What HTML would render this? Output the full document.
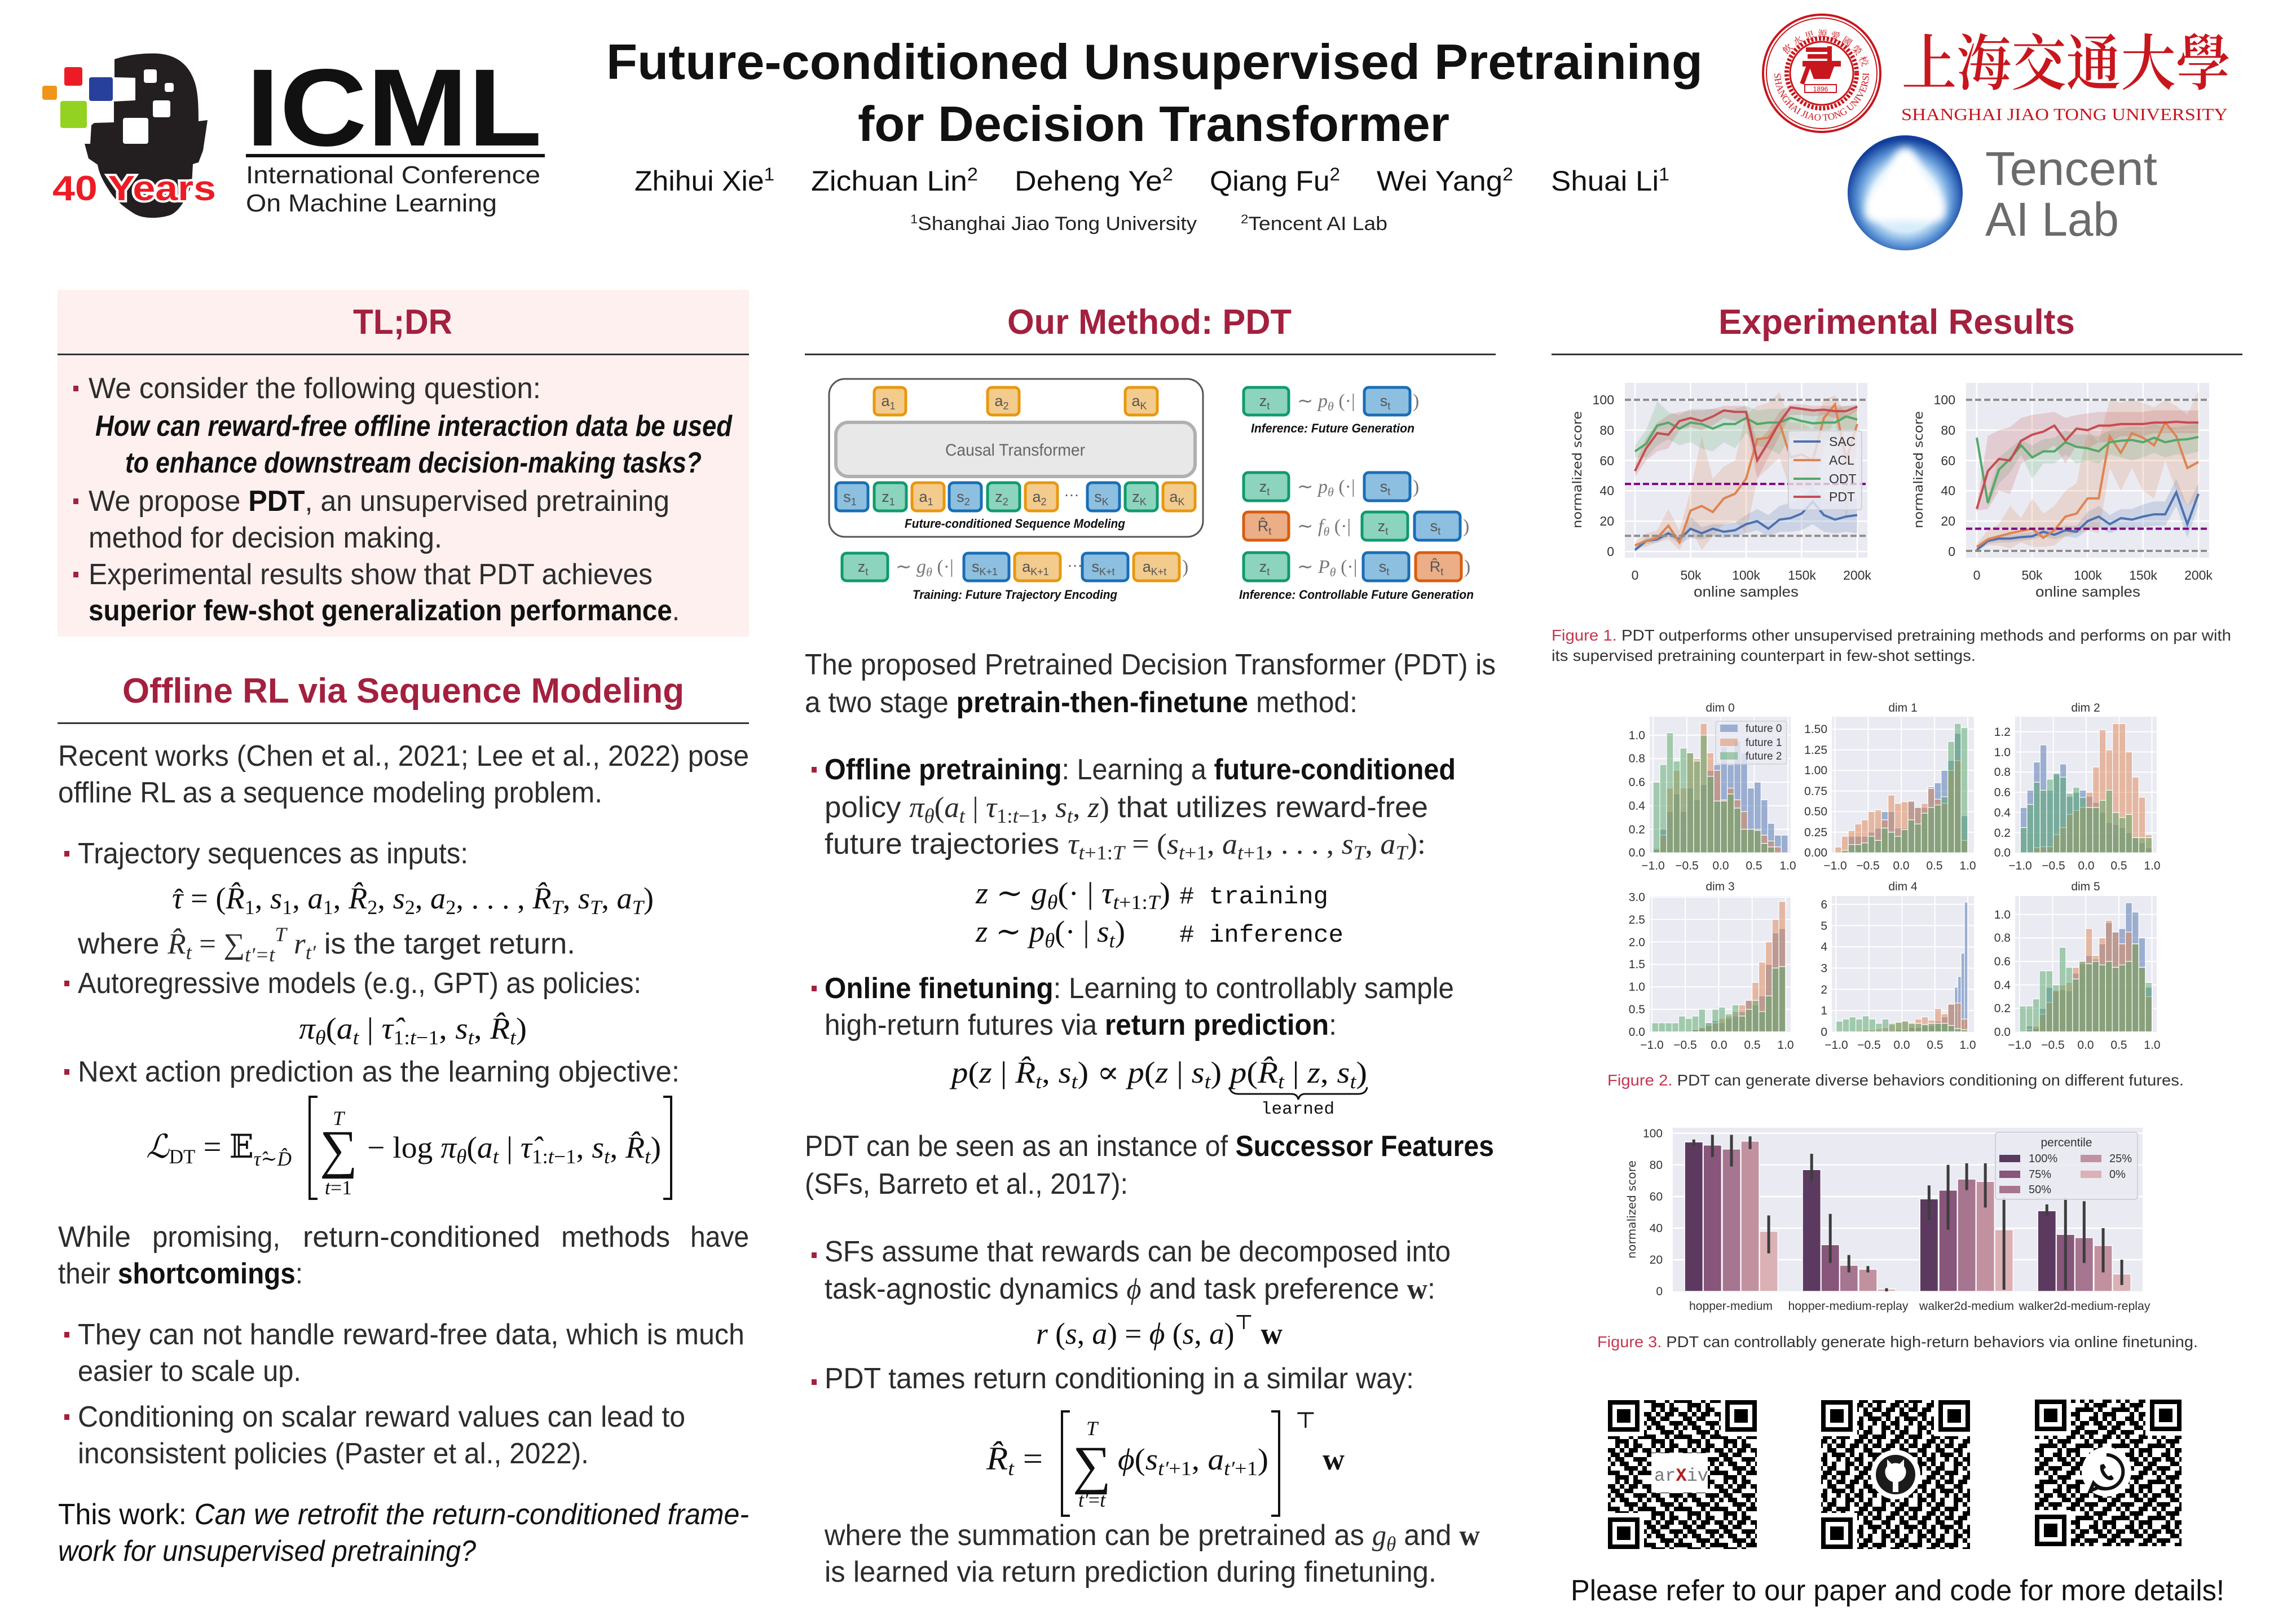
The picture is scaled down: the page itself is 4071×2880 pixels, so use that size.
<!DOCTYPE html>
<html><head><meta charset="utf-8"><style>
html,body{margin:0;padding:0;background:#fff;}
svg{display:block;}
text{font-family:"Liberation Sans","DejaVu Sans",sans-serif;}
.t{font-size:52px;fill:#2c2c2c;}
.b{font-weight:bold;fill:#111;}
.i{font-style:italic;}
.m{font-family:"Liberation Serif","DejaVu Serif",serif;font-style:italic;}
.u{font-family:"Liberation Serif","DejaVu Serif",serif;font-style:normal;}
.sb{font-size:36px;}
.mono{font-family:"Liberation Mono",monospace;}
.h{font-size:62px;font-weight:bold;fill:#a3203e;text-anchor:middle;}
.tl{font-size:27px;fill:#555;text-anchor:middle;}
.ts{font-size:18px;}
.sym{font-family:"Liberation Serif",serif;font-size:34px;fill:#777;}
.cap{font-size:22px;font-weight:bold;font-style:italic;fill:#111;}
.tk{font-size:23px;fill:#333;}
.tk2{font-size:21px;fill:#333;}
.fc{font-size:28px;fill:#333;}
</style></head><body>
<svg width="4071" height="2880" viewBox="0 0 4071 2880" xmlns="http://www.w3.org/2000/svg">
<defs>
<pattern id="qp" width="64" height="64" patternUnits="userSpaceOnUse"><path d="M0,0h8v8h-8zM16,0h16v8h-16zM48,0h8v8h-8zM8,8h16v8h-16zM32,8h16v8h-16zM56,8h8v8h-8zM0,16h16v8h-16zM40,16h16v8h-16zM16,24h24v8h-24zM48,24h16v8h-16zM0,32h8v8h-8zM24,32h8v8h-8zM40,32h8v8h-8zM56,32h8v8h-8zM0,40h24v8h-24zM32,40h8v8h-8zM8,48h8v8h-8zM24,48h32v8h-32zM0,56h8v8h-8zM16,56h8v8h-8zM48,56h16v8h-16z" fill="#000"/></pattern>
<pattern id="qp2" width="64" height="64" patternUnits="userSpaceOnUse" patternTransform="rotate(90)"><path d="M0,0h8v8h-8zM16,0h16v8h-16zM48,0h8v8h-8zM8,8h16v8h-16zM32,8h16v8h-16zM56,8h8v8h-8zM0,16h16v8h-16zM40,16h16v8h-16zM16,24h24v8h-24zM48,24h16v8h-16zM0,32h8v8h-8zM24,32h8v8h-8zM40,32h8v8h-8zM56,32h8v8h-8zM0,40h24v8h-24zM32,40h8v8h-8zM8,48h8v8h-8zM24,48h32v8h-32zM0,56h8v8h-8zM16,56h8v8h-8zM48,56h16v8h-16z" fill="#000"/></pattern>
<pattern id="qp3" width="64" height="64" patternUnits="userSpaceOnUse" patternTransform="translate(24,16) scale(-1,1)"><path d="M0,0h8v8h-8zM16,0h16v8h-16zM48,0h8v8h-8zM8,8h16v8h-16zM32,8h16v8h-16zM56,8h8v8h-8zM0,16h16v8h-16zM40,16h16v8h-16zM16,24h24v8h-24zM48,24h16v8h-16zM0,32h8v8h-8zM24,32h8v8h-8zM40,32h8v8h-8zM56,32h8v8h-8zM0,40h24v8h-24zM32,40h8v8h-8zM8,48h8v8h-8zM24,48h32v8h-32zM0,56h8v8h-8zM16,56h8v8h-8zM48,56h16v8h-16z" fill="#000"/></pattern>
<radialGradient id="tr" cx="0.5" cy="0.55" r="0.52"><stop offset="0.55" stop-color="#d6ecfb"/><stop offset="0.78" stop-color="#5f98d8"/><stop offset="1" stop-color="#123f9c"/></radialGradient>
<filter id="blr" x="-20%" y="-20%" width="140%" height="140%"><feGaussianBlur stdDeviation="7"/></filter>
<g id="finder"><rect x="0" y="0" width="64" height="64" fill="#fff"/><rect x="0" y="0" width="56" height="56" fill="#000"/><rect x="8" y="8" width="40" height="40" fill="#fff"/><rect x="16" y="16" width="24" height="24" fill="#000"/></g>
<g id="finderR"><rect x="-8" y="0" width="64" height="64" fill="#fff"/><rect x="0" y="0" width="56" height="56" fill="#000"/><rect x="8" y="8" width="40" height="40" fill="#fff"/><rect x="16" y="16" width="24" height="24" fill="#000"/></g>
<g id="finderB"><rect x="0" y="-8" width="64" height="64" fill="#fff"/><rect x="0" y="0" width="56" height="56" fill="#000"/><rect x="8" y="8" width="40" height="40" fill="#fff"/><rect x="16" y="16" width="24" height="24" fill="#000"/></g>
</defs>
<rect width="4071" height="2880" fill="#fff"/>

<!-- ===== HEADER ===== -->
<path d="M203,105 C230,96 257,94 280,95 C310,97 330,112 340,133 C350,152 352,175 352,215 L368,213 L360,267 L352,288 L342,291 L340,327 C330,355 315,378 300,382 C280,388 255,388 240,380 C220,368 205,355 197,343 C185,325 176,310 173,292 L157,281 L150,255 L160,255 L162,222 L167,218 L202,217 L202,180 L240,178 L240,138 L203,137 Z" fill="#231f20"/>
<g fill="#fff"><rect x="255" y="123" width="23" height="24" rx="4"/><rect x="292" y="147" width="16" height="16" rx="4"/><rect x="271" y="178" width="31" height="30" rx="4"/><rect x="218" y="209" width="45" height="46" rx="4"/></g>
<rect x="114" y="119" width="32" height="33" rx="4" fill="#ed1c24"/>
<rect x="158" y="137" width="42" height="42" rx="4" fill="#27409b"/>
<rect x="75" y="152" width="26" height="25" rx="4" fill="#f0951a"/>
<rect x="107" y="179" width="47" height="48" rx="4" fill="#93d221"/>
<text x="93" y="355" font-size="62" font-weight="bold" fill="#ed1c24" stroke="#fff" stroke-width="8" paint-order="stroke" textLength="290" lengthAdjust="spacingAndGlyphs">40 Years</text>
<text x="436" y="258" font-size="195" font-weight="bold" fill="#111" textLength="525" lengthAdjust="spacingAndGlyphs">ICML</text>
<rect x="436" y="273" width="530" height="6" fill="#111"/>
<text x="436" y="325" font-size="44" fill="#222" textLength="522" lengthAdjust="spacingAndGlyphs">International Conference</text>
<text x="436" y="375" font-size="44" fill="#222" textLength="445" lengthAdjust="spacingAndGlyphs">On Machine Learning</text>

<text x="1075" y="140" font-size="88" font-weight="bold" fill="#111" textLength="1944" lengthAdjust="spacingAndGlyphs">Future-conditioned Unsupervised Pretraining</text>
<text x="1521" y="250" font-size="88" font-weight="bold" fill="#111" textLength="1049" lengthAdjust="spacingAndGlyphs">for Decision Transformer</text>
<g font-size="50" fill="#111">
<text x="1125" y="338" textLength="248" lengthAdjust="spacingAndGlyphs">Zhihui Xie<tspan font-size="32" dy="-18">1</tspan></text>
<text x="1438" y="338" textLength="296" lengthAdjust="spacingAndGlyphs">Zichuan Lin<tspan font-size="32" dy="-18">2</tspan></text>
<text x="1799" y="338" textLength="281" lengthAdjust="spacingAndGlyphs">Deheng Ye<tspan font-size="32" dy="-18">2</tspan></text>
<text x="2145" y="338" textLength="231" lengthAdjust="spacingAndGlyphs">Qiang Fu<tspan font-size="32" dy="-18">2</tspan></text>
<text x="2441" y="338" textLength="242" lengthAdjust="spacingAndGlyphs">Wei Yang<tspan font-size="32" dy="-18">2</tspan></text>
<text x="2750" y="338" textLength="210" lengthAdjust="spacingAndGlyphs">Shuai Li<tspan font-size="32" dy="-18">1</tspan></text>
</g>
<text x="1614" y="408" font-size="34" fill="#222" textLength="508" lengthAdjust="spacingAndGlyphs"><tspan font-size="22" dy="-12">1</tspan><tspan dy="12">Shanghai Jiao Tong University</tspan></text>
<text x="2200" y="408" font-size="34" fill="#222" textLength="260" lengthAdjust="spacingAndGlyphs"><tspan font-size="22" dy="-12">2</tspan><tspan dy="12">Tencent AI Lab</tspan></text>

<!-- SJTU -->
<g fill="none" stroke="#c8161d">
<circle cx="3230" cy="130" r="104" stroke-width="4"/>
<circle cx="3230" cy="130" r="98" stroke-width="2"/>
<circle cx="3230" cy="130" r="62" stroke-width="8" stroke-dasharray="4,3"/>
<circle cx="3230" cy="130" r="56" stroke-width="3"/>
</g>
<path id="sjarc" d="M3146,130 A84,84 0 0 0 3314,130" fill="none"/>
<text font-size="17" fill="#c8161d" style="font-family:'Liberation Serif',serif"><textPath href="#sjarc">SHANGHAI JIAO TONG UNIVERSITY</textPath></text>
<path id="sjarc2" d="M3156,125 A76,76 0 0 1 3304,125" fill="none"/>
<text font-size="17" fill="#c8161d" style="font-family:'Noto Serif CJK SC',serif"><textPath href="#sjarc2" startOffset="15%">飲 水 思 源 愛 國 榮 校</textPath></text>
<rect x="3202" y="84" width="46" height="8" fill="#c8161d"/><rect x="3205" y="96" width="40" height="8" fill="#c8161d"/><rect x="3240" y="82" width="8" height="26" fill="#c8161d"/>
<rect x="3196" y="108" width="68" height="10" fill="#c8161d"/><path d="M3208,118 h44 l-8,22 h-28 z" fill="#c8161d"/><rect x="3198" y="112" width="8" height="38" fill="#c8161d" transform="rotate(20 3202 130)"/>
<rect x="3200" y="150" width="56" height="14" fill="#fff" stroke="#c8161d" stroke-width="2"/><text x="3228" y="162" font-size="12" fill="#c8161d" text-anchor="middle">1896</text>
<text x="3372" y="150" font-size="108" fill="#c8161d" textLength="583" lengthAdjust="spacingAndGlyphs" style="font-family:'Noto Serif CJK SC','Noto Sans CJK SC',serif;font-weight:600">上海交通大學</text>
<text x="3371" y="213" font-size="31" fill="#c8161d" textLength="579" lengthAdjust="spacingAndGlyphs" style="font-family:'Liberation Serif',serif;">SHANGHAI JIAO TONG UNIVERSITY</text>

<!-- Tencent -->
<circle cx="3378" cy="342" r="102" fill="url(#tr)"/>
<path d="M3378,262 C3398,262 3402,292 3418,314 C3436,338 3452,352 3448,382 C3444,396 3418,392 3378,392 C3338,392 3312,396 3308,382 C3304,352 3320,338 3338,314 C3354,292 3358,262 3378,262 Z" fill="#fff" filter="url(#blr)"/>
<text x="3520" y="328" font-size="84" fill="#6b6b6b" textLength="305" lengthAdjust="spacingAndGlyphs">Tencent</text>
<text x="3520" y="418" font-size="84" fill="#6b6b6b" textLength="237" lengthAdjust="spacingAndGlyphs">AI Lab</text>

<!-- ===== COLUMN 1 ===== -->
<rect x="102" y="514" width="1226" height="615" fill="#fdf0ef"/>
<text x="714" y="592" class="h" textLength="176" lengthAdjust="spacingAndGlyphs">TL;DR</text>
<rect x="102" y="627" width="1226" height="3" fill="#333"/>
<g fill="#a3203e">
<rect x="130" y="684" width="9" height="10"/><rect x="130" y="884" width="9" height="10"/><rect x="130" y="1014" width="9" height="10"/>
<rect x="114" y="1509" width="9" height="10"/><rect x="114" y="1739" width="9" height="10"/><rect x="114" y="1896" width="9" height="10"/>
<rect x="114" y="2362" width="9" height="10"/><rect x="114" y="2508" width="9" height="10"/>
<rect x="1439" y="1360" width="9" height="10"/><rect x="1439" y="1748" width="9" height="10"/><rect x="1439" y="2221" width="9" height="10"/><rect x="1439" y="2446" width="9" height="10"/>
</g>
<text x="157" y="706" class="t" textLength="802" lengthAdjust="spacingAndGlyphs">We consider the following question:</text>
<text x="169" y="773" class="t b i" textLength="1129" lengthAdjust="spacingAndGlyphs">How can reward-free offline interaction data be used</text>
<text x="222" y="838" class="t b i" textLength="1022" lengthAdjust="spacingAndGlyphs">to enhance downstream decision-making tasks?</text>
<text x="157" y="906" class="t" textLength="1030" lengthAdjust="spacingAndGlyphs">We propose <tspan class="b">PDT</tspan>, an unsupervised pretraining</text>
<text x="157" y="971" class="t" textLength="627" lengthAdjust="spacingAndGlyphs">method for decision making.</text>
<text x="157" y="1036" class="t" textLength="1000" lengthAdjust="spacingAndGlyphs">Experimental results show that PDT achieves</text>
<text x="157" y="1100" class="t" textLength="1048" lengthAdjust="spacingAndGlyphs"><tspan class="b">superior few-shot generalization performance</tspan>.</text>

<text x="715" y="1246" class="h" textLength="996" lengthAdjust="spacingAndGlyphs">Offline RL via Sequence Modeling</text>
<rect x="102" y="1281" width="1226" height="3" fill="#333"/>
<text x="103" y="1358" class="t" textLength="1225" lengthAdjust="spacingAndGlyphs">Recent works (Chen et al., 2021; Lee et al., 2022) pose</text>
<text x="103" y="1423" class="t" textLength="965" lengthAdjust="spacingAndGlyphs">offline RL as a sequence modeling problem.</text>
<text x="138" y="1531" class="t" textLength="692" lengthAdjust="spacingAndGlyphs">Trajectory sequences as inputs:</text>
<text x="305" y="1611" class="m" font-size="54" fill="#111" textLength="854" lengthAdjust="spacingAndGlyphs">τ<tspan class="u"> = (</tspan>R̂<tspan class="u sb" dy="10">1</tspan><tspan class="u" dy="-10">, </tspan>s<tspan class="u sb" dy="10">1</tspan><tspan class="u" dy="-10">, </tspan>a<tspan class="u sb" dy="10">1</tspan><tspan class="u" dy="-10">, </tspan>R̂<tspan class="u sb" dy="10">2</tspan><tspan class="u" dy="-10">, </tspan>s<tspan class="u sb" dy="10">2</tspan><tspan class="u" dy="-10">, </tspan>a<tspan class="u sb" dy="10">2</tspan><tspan class="u" dy="-10">, . . . , </tspan>R̂<tspan class="sb" dy="10">T</tspan><tspan class="u" dy="-10">, </tspan>s<tspan class="sb" dy="10">T</tspan><tspan class="u" dy="-10">, </tspan>a<tspan class="sb" dy="10">T</tspan><tspan class="u" dy="-10">)</tspan></text>
<text x="309" y="1611" class="u" font-size="50" fill="#111">ˆ</text>
<text x="138" y="1691" class="t" textLength="882" lengthAdjust="spacingAndGlyphs">where <tspan class="m">R̂</tspan><tspan class="m sb" dy="10">t</tspan><tspan class="u" dy="-10"> = ∑</tspan><tspan class="m sb" dy="14">t′=t</tspan><tspan class="m sb" dy="-36">T</tspan><tspan class="m" dy="22"> r</tspan><tspan class="m sb" dy="10">t′</tspan><tspan dy="-10"> is the target return.</tspan></text>
<text x="138" y="1761" class="t" textLength="999" lengthAdjust="spacingAndGlyphs">Autoregressive models (e.g., GPT) as policies:</text>
<text x="530" y="1842" class="m" font-size="54" fill="#111" textLength="404" lengthAdjust="spacingAndGlyphs">π<tspan class="sb" dy="10">θ</tspan><tspan class="u" dy="-10">(</tspan>a<tspan class="sb" dy="10">t</tspan><tspan class="u" dy="-10"> | </tspan>τ̂<tspan class="u sb" dy="10">1:</tspan><tspan class="sb">t</tspan><tspan class="u sb">−1</tspan><tspan class="u" dy="-10">, </tspan>s<tspan class="sb" dy="10">t</tspan><tspan class="u" dy="-10">, </tspan>R̂<tspan class="sb" dy="10">t</tspan><tspan class="u" dy="-10">)</tspan></text>
<text x="138" y="1918" class="t" textLength="1067" lengthAdjust="spacingAndGlyphs">Next action prediction as the learning objective:</text>
<text x="259" y="2053" class="m" font-size="58" fill="#111" textLength="258" lengthAdjust="spacingAndGlyphs">ℒ<tspan class="u sb" dy="10">DT</tspan><tspan class="u" dy="-10"> = 𝔼</tspan><tspan class="sb" dy="14">τ̂∼D̂</tspan></text>
<path d="M563,1945 H549 V2126 H563 M1176,1945 H1190 V2126 H1176" fill="none" stroke="#111" stroke-width="4"/>
<text x="567" y="2070" class="u" font-size="95" fill="#111" textLength="67" lengthAdjust="spacingAndGlyphs">∑</text>
<text x="600" y="1995" class="m" font-size="36" fill="#111" text-anchor="middle">T</text>
<text x="600" y="2118" class="m" font-size="36" fill="#111" text-anchor="middle">t<tspan class="u">=1</tspan></text>
<text x="651" y="2053" class="m" font-size="54" fill="#111" textLength="521" lengthAdjust="spacingAndGlyphs"><tspan class="u">− log </tspan>π<tspan class="sb" dy="10">θ</tspan><tspan class="u" dy="-10">(</tspan>a<tspan class="sb" dy="10">t</tspan><tspan class="u" dy="-10"> | </tspan>τ̂<tspan class="u sb" dy="10">1:</tspan><tspan class="sb">t</tspan><tspan class="u sb">−1</tspan><tspan class="u" dy="-10">, </tspan>s<tspan class="sb" dy="10">t</tspan><tspan class="u" dy="-10">, </tspan>R̂<tspan class="sb" dy="10">t</tspan><tspan class="u" dy="-10">)</tspan></text>
<g class="t">
<text x="103" y="2211" class="t" textLength="129" lengthAdjust="spacingAndGlyphs">While</text>
<text x="270" y="2211" class="t" textLength="227" lengthAdjust="spacingAndGlyphs">promising,</text>
<text x="537" y="2211" class="t" textLength="421" lengthAdjust="spacingAndGlyphs">return-conditioned</text>
<text x="995" y="2211" class="t" textLength="193" lengthAdjust="spacingAndGlyphs">methods</text>
<text x="1224" y="2211" class="t" textLength="104" lengthAdjust="spacingAndGlyphs">have</text>
</g>
<text x="103" y="2276" class="t" textLength="434" lengthAdjust="spacingAndGlyphs">their <tspan class="b">shortcomings</tspan>:</text>
<text x="138" y="2384" class="t" textLength="1182" lengthAdjust="spacingAndGlyphs">They can not handle reward-free data, which is much</text>
<text x="138" y="2449" class="t" textLength="396" lengthAdjust="spacingAndGlyphs">easier to scale up.</text>
<text x="138" y="2530" class="t" textLength="1077" lengthAdjust="spacingAndGlyphs">Conditioning on scalar reward values can lead to</text>
<text x="138" y="2595" class="t" textLength="906" lengthAdjust="spacingAndGlyphs">inconsistent policies (Paster et al., 2022).</text>
<text x="103" y="2703" class="t" textLength="1225" lengthAdjust="spacingAndGlyphs" style="fill:#111">This work: <tspan class="i">Can we retrofit the return-conditioned frame-</tspan></text>
<text x="103" y="2768" class="t i" textLength="741" lengthAdjust="spacingAndGlyphs" style="fill:#111">work for unsupervised pretraining?</text>

<!-- ===== COLUMN 2 ===== -->
<text x="2038" y="592" class="h" textLength="504" lengthAdjust="spacingAndGlyphs">Our Method: PDT</text>
<rect x="1427" y="627" width="1225" height="3" fill="#333"/>

<rect x="1470" y="672" width="663" height="280" rx="28" fill="none" stroke="#555" stroke-width="3"/>
<rect x="1482" y="749" width="637" height="96" rx="22" fill="#e8e8e8" stroke="#b0b0b0" stroke-width="6"/>
<text x="1800" y="808" font-size="30" fill="#666" text-anchor="middle" textLength="248" lengthAdjust="spacingAndGlyphs">Causal Transformer</text>
<g stroke-width="5">
<rect x="1550" y="687" width="56" height="49" rx="8" fill="#f2cb8d" stroke="#e8980f"/>
<rect x="1751" y="687" width="56" height="49" rx="8" fill="#f2cb8d" stroke="#e8980f"/>
<rect x="1995" y="687" width="57" height="49" rx="8" fill="#f2cb8d" stroke="#e8980f"/>
<rect x="1482" y="856" width="57" height="50" rx="8" fill="#8dbfe0" stroke="#1a6eb5"/>
<rect x="1550" y="856" width="57" height="50" rx="8" fill="#8cd4bd" stroke="#0f9b6e"/>
<rect x="1617" y="856" width="57" height="50" rx="8" fill="#f2cb8d" stroke="#e8980f"/>
<rect x="1683" y="856" width="57" height="50" rx="8" fill="#8dbfe0" stroke="#1a6eb5"/>
<rect x="1751" y="856" width="57" height="50" rx="8" fill="#8cd4bd" stroke="#0f9b6e"/>
<rect x="1818" y="856" width="57" height="50" rx="8" fill="#f2cb8d" stroke="#e8980f"/>
<rect x="1928" y="856" width="57" height="50" rx="8" fill="#8dbfe0" stroke="#1a6eb5"/>
<rect x="1995" y="856" width="57" height="50" rx="8" fill="#8cd4bd" stroke="#0f9b6e"/>
<rect x="2062" y="856" width="57" height="50" rx="8" fill="#f2cb8d" stroke="#e8980f"/>
<rect x="1493" y="981" width="81" height="49" rx="8" fill="#8cd4bd" stroke="#0f9b6e"/>
<rect x="1709" y="981" width="80" height="49" rx="8" fill="#8dbfe0" stroke="#1a6eb5"/>
<rect x="1799" y="981" width="81" height="49" rx="8" fill="#f2cb8d" stroke="#e8980f"/>
<rect x="1919" y="981" width="81" height="49" rx="8" fill="#8dbfe0" stroke="#1a6eb5"/>
<rect x="2010" y="981" width="81" height="49" rx="8" fill="#f2cb8d" stroke="#e8980f"/>
<rect x="2205" y="687" width="80" height="49" rx="8" fill="#8cd4bd" stroke="#0f9b6e"/>
<rect x="2419" y="687" width="81" height="49" rx="8" fill="#8dbfe0" stroke="#1a6eb5"/>
<rect x="2205" y="838" width="80" height="50" rx="8" fill="#8cd4bd" stroke="#0f9b6e"/>
<rect x="2419" y="838" width="81" height="50" rx="8" fill="#8dbfe0" stroke="#1a6eb5"/>
<rect x="2205" y="908" width="80" height="50" rx="8" fill="#ebae87" stroke="#d95c0e"/>
<rect x="2415" y="908" width="81" height="50" rx="8" fill="#8cd4bd" stroke="#0f9b6e"/>
<rect x="2508" y="908" width="81" height="50" rx="8" fill="#8dbfe0" stroke="#1a6eb5"/>
<rect x="2205" y="980" width="80" height="50" rx="8" fill="#8cd4bd" stroke="#0f9b6e"/>
<rect x="2417" y="980" width="81" height="50" rx="8" fill="#8dbfe0" stroke="#1a6eb5"/>
<rect x="2510" y="980" width="81" height="50" rx="8" fill="#ebae87" stroke="#d95c0e"/>
</g>
<g class="tl">
<text class="tl" x="1575" y="720">a<tspan class="ts" dy="6">1</tspan></text>
<text class="tl" x="1776" y="720">a<tspan class="ts" dy="6">2</tspan></text>
<text class="tl" x="2020" y="720">a<tspan class="ts" dy="6">K</tspan></text>
<text class="tl" x="1507" y="890">s<tspan class="ts" dy="6">1</tspan></text>
<text class="tl" x="1575" y="890">z<tspan class="ts" dy="6">1</tspan></text>
<text class="tl" x="1642" y="890">a<tspan class="ts" dy="6">1</tspan></text>
<text class="tl" x="1708" y="890">s<tspan class="ts" dy="6">2</tspan></text>
<text class="tl" x="1776" y="890">z<tspan class="ts" dy="6">2</tspan></text>
<text class="tl" x="1843" y="890">a<tspan class="ts" dy="6">2</tspan></text>
<text class="tl" x="1953" y="890">s<tspan class="ts" dy="6">K</tspan></text>
<text class="tl" x="2020" y="890">z<tspan class="ts" dy="6">K</tspan></text>
<text class="tl" x="2087" y="890">a<tspan class="ts" dy="6">K</tspan></text>
<text class="tl" x="1900" y="886">···</text>
<text class="tl" x="1530" y="1014">z<tspan class="ts" dy="6">t</tspan></text>
<text class="tl" x="1746" y="1014">s<tspan class="ts" dy="6">K+1</tspan></text>
<text class="tl" x="1836" y="1014">a<tspan class="ts" dy="6">K+1</tspan></text>
<text class="tl" x="1906" y="1011">···</text>
<text class="tl" x="1956" y="1014">s<tspan class="ts" dy="6">K+t</tspan></text>
<text class="tl" x="2047" y="1014">a<tspan class="ts" dy="6">K+t</tspan></text>
<text class="tl" x="2242" y="720">z<tspan class="ts" dy="6">t</tspan></text>
<text class="tl" x="2456" y="720">s<tspan class="ts" dy="6">t</tspan></text>
<text class="tl" x="2242" y="872">z<tspan class="ts" dy="6">t</tspan></text>
<text class="tl" x="2456" y="872">s<tspan class="ts" dy="6">t</tspan></text>
<text class="tl" x="2242" y="942">R̂<tspan class="ts" dy="6">t</tspan></text>
<text class="tl" x="2452" y="942">z<tspan class="ts" dy="6">t</tspan></text>
<text class="tl" x="2545" y="942">s<tspan class="ts" dy="6">t</tspan></text>
<text class="tl" x="2242" y="1014">z<tspan class="ts" dy="6">t</tspan></text>
<text class="tl" x="2454" y="1014">s<tspan class="ts" dy="6">t</tspan></text>
<text class="tl" x="2547" y="1014">R̂<tspan class="ts" dy="6">t</tspan></text>
</g>
<text class="sym" x="2300" y="722">∼ <tspan class="m">p</tspan><tspan class="m" font-size="22" dy="6">θ</tspan><tspan dy="-6"> (·|</tspan></text>
<text class="sym" x="2505" y="722" font-size="40">)</text>
<text class="sym" x="2300" y="874">∼ <tspan class="m">p</tspan><tspan class="m" font-size="22" dy="6">θ</tspan><tspan dy="-6"> (·|</tspan></text>
<text class="sym" x="2505" y="874" font-size="40">)</text>
<text class="sym" x="2300" y="944">∼ <tspan class="m">f</tspan><tspan class="m" font-size="22" dy="6">θ</tspan><tspan dy="-6"> (·|</tspan></text>
<text class="sym" x="2594" y="944" font-size="40">)</text>
<text class="sym" x="2300" y="1016">∼ <tspan class="m">P</tspan><tspan class="m" font-size="22" dy="6">θ</tspan><tspan dy="-6"> (·|</tspan></text>
<text class="sym" x="2596" y="1016" font-size="40">)</text>
<text class="sym" x="1588" y="1016">∼ <tspan class="m">g</tspan><tspan class="m" font-size="22" dy="6">θ</tspan><tspan dy="-6"> (·|</tspan></text>
<text class="sym" x="2096" y="1016" font-size="40">)</text>
<text class="cap" x="2218" y="767" textLength="290" lengthAdjust="spacingAndGlyphs">Inference: Future Generation</text>
<text class="cap" x="1604" y="936" textLength="391" lengthAdjust="spacingAndGlyphs">Future-conditioned Sequence Modeling</text>
<text class="cap" x="1618" y="1062" textLength="363" lengthAdjust="spacingAndGlyphs">Training: Future Trajectory Encoding</text>
<text class="cap" x="2197" y="1062" textLength="416" lengthAdjust="spacingAndGlyphs">Inference: Controllable Future Generation</text>

<text x="1427" y="1196" class="t" textLength="1225" lengthAdjust="spacingAndGlyphs">The proposed Pretrained Decision Transformer (PDT) is</text>
<text x="1427" y="1263" class="t" textLength="980" lengthAdjust="spacingAndGlyphs">a two stage <tspan class="b">pretrain-then-finetune</tspan> method:</text>
<text x="1462" y="1382" class="t" textLength="1119" lengthAdjust="spacingAndGlyphs"><tspan class="b">Offline pretraining</tspan>: Learning a <tspan class="b">future-conditioned</tspan></text>
<text x="1462" y="1449" class="t" textLength="1070" lengthAdjust="spacingAndGlyphs">policy <tspan class="m">π</tspan><tspan class="m sb" dy="10">θ</tspan><tspan class="u" dy="-10">(</tspan><tspan class="m">a</tspan><tspan class="m sb" dy="10">t</tspan><tspan class="u" dy="-10"> | </tspan><tspan class="m">τ</tspan><tspan class="u sb" dy="10">1:</tspan><tspan class="m sb">t</tspan><tspan class="u sb">−1</tspan><tspan class="u" dy="-10">, </tspan><tspan class="m">s</tspan><tspan class="m sb" dy="10">t</tspan><tspan class="u" dy="-10">, </tspan><tspan class="m">z</tspan><tspan class="u">)</tspan> that utilizes reward-free</text>
<text x="1462" y="1514" class="t" textLength="1066" lengthAdjust="spacingAndGlyphs">future trajectories <tspan class="m">τ</tspan><tspan class="m sb" dy="10">t</tspan><tspan class="u sb">+1:</tspan><tspan class="m sb">T</tspan><tspan class="u" dy="-10"> = (</tspan><tspan class="m">s</tspan><tspan class="m sb" dy="10">t</tspan><tspan class="u sb">+1</tspan><tspan class="u" dy="-10">, </tspan><tspan class="m">a</tspan><tspan class="m sb" dy="10">t</tspan><tspan class="u sb">+1</tspan><tspan class="u" dy="-10">, . . . , </tspan><tspan class="m">s</tspan><tspan class="m sb" dy="10">T</tspan><tspan class="u" dy="-10">, </tspan><tspan class="m">a</tspan><tspan class="m sb" dy="10">T</tspan><tspan class="u" dy="-10">):</tspan></text>
<text x="1730" y="1602" class="m" font-size="54" fill="#111" textLength="345" lengthAdjust="spacingAndGlyphs">z<tspan class="u"> ∼ </tspan>g<tspan class="sb" dy="10">θ</tspan><tspan class="u" dy="-10">(· | </tspan>τ<tspan class="sb" dy="10">t</tspan><tspan class="u sb">+1:</tspan><tspan class="sb">T</tspan><tspan class="u" dy="-10">)</tspan></text>
<text x="2091" y="1602" class="mono" font-size="44" fill="#111" textLength="264" lengthAdjust="spacingAndGlyphs"># training</text>
<text x="1730" y="1670" class="m" font-size="54" fill="#111" textLength="265" lengthAdjust="spacingAndGlyphs">z<tspan class="u"> ∼ </tspan>p<tspan class="sb" dy="10">θ</tspan><tspan class="u" dy="-10">(· | </tspan>s<tspan class="sb" dy="10">t</tspan><tspan class="u" dy="-10">)</tspan></text>
<text x="2091" y="1670" class="mono" font-size="44" fill="#111" textLength="291" lengthAdjust="spacingAndGlyphs"># inference</text>
<text x="1462" y="1770" class="t" textLength="1116" lengthAdjust="spacingAndGlyphs"><tspan class="b">Online finetuning</tspan>: Learning to controllably sample</text>
<text x="1462" y="1835" class="t" textLength="908" lengthAdjust="spacingAndGlyphs">high-return futures via <tspan class="b">return prediction</tspan>:</text>
<text x="1687" y="1920" class="m" font-size="54" fill="#111" textLength="737" lengthAdjust="spacingAndGlyphs">p<tspan class="u">(</tspan>z<tspan class="u"> | </tspan>R̂<tspan class="sb" dy="10">t</tspan><tspan class="u" dy="-10">, </tspan>s<tspan class="sb" dy="10">t</tspan><tspan class="u" dy="-10">) ∝ </tspan>p<tspan class="u">(</tspan>z<tspan class="u"> | </tspan>s<tspan class="sb" dy="10">t</tspan><tspan class="u" dy="-10">) </tspan>p<tspan class="u">(</tspan>R̂<tspan class="sb" dy="10">t</tspan><tspan class="u" dy="-10"> | </tspan>z<tspan class="u">, </tspan>s<tspan class="sb" dy="10">t</tspan><tspan class="u" dy="-10">)</tspan></text>
<path d="M2180,1928 Q2182,1940 2196,1940 H2290 Q2300,1940 2302,1950 Q2304,1940 2314,1940 H2408 Q2422,1940 2424,1928" fill="none" stroke="#111" stroke-width="3"/>
<text x="2301" y="1975" class="mono" font-size="31" fill="#111" text-anchor="middle">learned</text>

<text x="1427" y="2050" class="t" textLength="1222" lengthAdjust="spacingAndGlyphs">PDT can be seen as an instance of <tspan class="b">Successor Features</tspan></text>
<text x="1427" y="2117" class="t" textLength="573" lengthAdjust="spacingAndGlyphs">(SFs, Barreto et al., 2017):</text>
<text x="1462" y="2237" class="t" textLength="1110" lengthAdjust="spacingAndGlyphs">SFs assume that rewards can be decomposed into</text>
<text x="1462" y="2303" class="t" textLength="1083" lengthAdjust="spacingAndGlyphs">task-agnostic dynamics <tspan class="m">ϕ</tspan> and task preference <tspan class="u" font-weight="bold">w</tspan>:</text>
<text x="1837" y="2383" class="m" font-size="54" fill="#111" textLength="437" lengthAdjust="spacingAndGlyphs">r<tspan class="u"> (</tspan>s<tspan class="u">, </tspan>a<tspan class="u">) = </tspan>ϕ<tspan class="u"> (</tspan>s<tspan class="u">, </tspan>a<tspan class="u">)</tspan><tspan class="u sb" dy="-26">⊤</tspan><tspan class="u" dy="26" font-weight="bold"> w</tspan></text>
<text x="1462" y="2462" class="t" textLength="1045" lengthAdjust="spacingAndGlyphs">PDT tames return conditioning in a similar way:</text>
<text x="1749" y="2606" class="m" font-size="58" fill="#111" textLength="100" lengthAdjust="spacingAndGlyphs">R̂<tspan class="sb" dy="10">t</tspan><tspan class="u" dy="-10"> =</tspan></text>
<path d="M1897,2503 H1883 V2688 H1897 M2254,2503 H2268 V2688 H2254" fill="none" stroke="#111" stroke-width="4"/>
<text x="1902" y="2630" class="u" font-size="95" fill="#111" textLength="68" lengthAdjust="spacingAndGlyphs">∑</text>
<text x="1936" y="2545" class="m" font-size="36" fill="#111" text-anchor="middle">T</text>
<text x="1936" y="2672" class="m" font-size="36" fill="#111" text-anchor="middle">t′<tspan class="u">=</tspan>t</text>
<text x="1982" y="2606" class="m" font-size="54" fill="#111" textLength="267" lengthAdjust="spacingAndGlyphs">ϕ<tspan class="u">(</tspan>s<tspan class="sb" dy="10">t′</tspan><tspan class="u sb">+1</tspan><tspan class="u" dy="-10">, </tspan>a<tspan class="sb" dy="10">t′</tspan><tspan class="u sb">+1</tspan><tspan class="u" dy="-10">)</tspan></text>
<text x="2296" y="2532" class="u" font-size="40" fill="#111">⊤</text>
<text x="2345" y="2606" class="u" font-size="54" font-weight="bold" fill="#111">w</text>
<text x="1462" y="2740" class="t" textLength="1162" lengthAdjust="spacingAndGlyphs">where the summation can be pretrained as <tspan class="m">g</tspan><tspan class="m sb" dy="10">θ</tspan><tspan dy="-10"> and </tspan><tspan class="u" font-weight="bold">w</tspan></text>
<text x="1462" y="2805" class="t" textLength="1085" lengthAdjust="spacingAndGlyphs">is learned via return prediction during finetuning.</text>

<!-- ===== COLUMN 3 ===== -->
<text x="3363" y="592" class="h" textLength="632" lengthAdjust="spacingAndGlyphs">Experimental Results</text>
<rect x="2751" y="627" width="1225" height="3" fill="#333"/>

<rect x="2881" y="679" width="430" height="310" fill="#eaeaf2"/>
<rect x="3486" y="679" width="431" height="310" fill="#eaeaf2"/>
<path d="M2899,679V989M2997.5,679V989M3096,679V989M3194.5,679V989M3293,679V989M2881,978H3311M2881,924.2H3311M2881,870.4H3311M2881,816.6H3311M2881,762.8H3311M2881,709H3311M3505,679V989M3603,679V989M3701.5,679V989M3799.8,679V989M3898,679V989M3486,978H3917M3486,924.2H3917M3486,870.4H3917M3486,816.6H3917M3486,762.8H3917M3486,709H3917" stroke="#fff" stroke-width="2.5" fill="none"/>
<g transform="translate(2899,978) scale(19.7,-2.69)">
<polygon fill="#4c72b0" fill-opacity="0.2" points="0,3 1,9 2,10 3,14 4,10 5,23 6,16 7,18 8,18 9,19 10,24 11,28 12,24 13,30 14,32 15,35 16,42 17,35 18,32 19,34 20,35 20,12 19,13 18,12 17,13 16,18 15,14 14,13 13,13 12,10 11,14 10,12 9,10 8,9 7,10 6,8 5,9 4,5 3,10 2,6 1,5 0,0"/>
<polygon fill="#dd8452" fill-opacity="0.2" points="0,6 1,12 2,14 3,28 4,14 5,40 6,76 7,48 8,56 9,60 10,90 11,96 12,98 13,105 14,85 15,85 16,80 17,100 18,103 19,90 20,95 20,70 19,20 18,90 17,65 16,40 15,42 14,40 13,62 12,55 11,48 10,12 9,20 8,18 7,10 6,1 5,15 4,1 3,8 2,6 1,3 0,2"/>
<polygon fill="#55a868" fill-opacity="0.2" points="0,70 1,80 2,99 3,92 4,90 5,94 6,94 7,94 8,93 9,94 10,96 11,93 12,94 13,94 14,95 15,94 16,93 17,93 18,94 19,96 20,95 20,78 19,80 18,72 17,74 16,72 15,74 14,76 13,64 12,68 11,70 10,78 9,68 8,72 7,66 6,68 5,72 4,70 3,74 2,70 1,62 0,62"/>
<polygon fill="#c44e52" fill-opacity="0.2" points="0,58 1,75 2,85 3,90 4,92 5,93 6,93 7,94 8,96 9,96 10,96 11,72 12,80 13,92 14,97 15,97 16,96 17,96 18,96 19,96 20,97 20,93 19,88 18,88 17,90 16,89 15,90 14,90 13,76 12,62 11,48 10,86 9,86 8,88 7,83 6,80 5,82 4,80 3,68 2,66 1,60 0,49"/>
<polyline vector-effect="non-scaling-stroke" fill="none" stroke="#4c72b0" stroke-width="4" points="0,1 1,7 2,8 3,12 4,8 5,15 6,12 7,15 8,13 9,14 10,18 11,20 12,15 13,21 14,22 15,25 16,33 17,24 18,21 19,23 20,24"/>
<polyline vector-effect="non-scaling-stroke" fill="none" stroke="#dd8452" stroke-width="4" points="0,4 1,7 2,9 3,17 4,6 5,27 6,30 7,26 8,35 9,38 10,48 11,74 12,75 13,85 14,62 15,64 16,60 17,88 18,97 19,60 20,84"/>
<polyline vector-effect="non-scaling-stroke" fill="none" stroke="#55a868" stroke-width="4" points="0,66 1,71 2,83 3,85 4,81 5,85 6,84 7,81 8,84 9,84 10,88 11,84 12,85 13,85 14,88 15,86 16,84.5 17,85 18,85 19,89 20,87"/>
<polyline vector-effect="non-scaling-stroke" fill="none" stroke="#c44e52" stroke-width="4" points="0,53 1,68 2,78 3,77 4,86 5,88 6,86 7,89 8,93 9,92 10,92 11,60 12,72 13,85 14,95 15,94 16,93 17,93.5 18,92.5 19,92.5 20,95.5"/>
</g>
<g transform="translate(3505,978) scale(19.65,-2.69)">
<polygon fill="#4c72b0" fill-opacity="0.2" points="0,2 1,9 2,11 3,11 4,12 5,13 6,16 7,14 8,17 9,17 10,26 11,30 12,24 13,28 14,28 15,31 16,33 17,33 18,48 19,30 20,45 20,30 19,9 18,30 17,17 16,17 15,16 14,15 13,15 12,12 11,16 10,14 9,9 8,10 7,8 6,10 5,8 4,7 3,6 2,6 1,5 0,0"/>
<polygon fill="#dd8452" fill-opacity="0.2" points="0,5 1,14 2,18 3,30 4,22 5,35 6,25 7,30 8,40 9,45 10,80 11,72 12,100 13,98 14,100 15,98 16,95 17,100 18,96 19,90 20,106 20,35 19,30 18,40 17,60 16,35 15,40 14,55 13,40 12,55 11,12 10,14 9,12 8,10 7,4 6,3 5,3 4,6 3,2 2,4 1,4 0,1"/>
<polygon fill="#55a868" fill-opacity="0.2" points="0,76 1,36 2,62 3,68 4,74 5,70 6,74 7,75 8,80 9,77 10,77 11,76 12,80 13,81 14,82 15,82 16,84 17,82 18,82 19,83 20,84 20,66 19,64 18,64 17,62 16,65 15,62 14,60 13,62 12,64 11,58 10,60 9,58 8,64 7,58 6,58 5,48 4,64 3,52 2,45 1,30 0,74"/>
<polygon fill="#c44e52" fill-opacity="0.2" points="0,30 1,76 2,80 3,82 4,88 5,90 6,91 7,92 8,88 9,90 10,91 11,92 12,92 13,92 14,92 15,92 16,93 17,93 18,93 19,93 20,93 20,78 19,78 18,78 17,78 16,78 15,76 14,76 13,76 12,72 11,72 10,68 9,70 8,58 7,70 6,65 5,62 4,58 3,38 2,40 1,28 0,27"/>
<polyline vector-effect="non-scaling-stroke" fill="none" stroke="#4c72b0" stroke-width="4" points="0,1 1,7 2,8.5 3,8.5 4,9.5 5,10 6,13 7,11 8,14 9,13 10,20 11,23 12,18 13,22 14,21 15,23 16,24.5 17,24.5 18,39 19,18 20,38"/>
<polyline vector-effect="non-scaling-stroke" fill="none" stroke="#dd8452" stroke-width="4" points="0,3 1,8 2,10 3,12 4,13.5 5,15 6,9 7,14 8,23 9,25 10,35 11,35 12,76 13,65 14,78 15,75 16,70 17,85 18,76 19,55 20,59"/>
<polyline vector-effect="non-scaling-stroke" fill="none" stroke="#55a868" stroke-width="4" points="0,75 1,32 2,54 3,61 4,70 5,62 6,66 7,66 8,72 9,69 10,68 11,66 12,72 13,73 14,73.5 15,72 16,75 17,72 18,73.5 19,74 20,75.5"/>
<polyline vector-effect="non-scaling-stroke" fill="none" stroke="#c44e52" stroke-width="4" points="0,28 1,53 2,61 3,60 4,73 5,77 6,79 7,83 8,73 9,81 10,80 11,83 12,83 13,84 14,84 15,84 16,85 17,85 18,85.5 19,85 20,85"/>
</g>
<g fill="none" stroke-width="4" stroke-dasharray="11,5">
<path d="M2881,709H3311M2881,950.3H3311" stroke="#8e8e8e"/>
<path d="M2881,858.3H3311" stroke="#800080"/>
<path d="M3486,709H3917M3486,977H3917" stroke="#8e8e8e"/>
<path d="M3486,937.6H3917" stroke="#800080"/>
</g>
<rect x="3171" y="764" width="130" height="140" rx="5" fill="#eaeaf2" fill-opacity="0.8" stroke="#d0d0d8" stroke-width="2"/>
<g stroke-width="4"><path d="M3180,783H3228" stroke="#4c72b0"/><path d="M3180,816H3228" stroke="#dd8452"/><path d="M3180,849H3228" stroke="#55a868"/><path d="M3180,881H3228" stroke="#c44e52"/></g>
<g><text x="3243" y="791" class="tk">SAC</text><text x="3243" y="824" class="tk">ACL</text><text x="3243" y="857" class="tk">ODT</text><text x="3243" y="889" class="tk">PDT</text></g>
<g>
<text class="tk" text-anchor="end" x="2862" y="717">100</text><text class="tk" text-anchor="end" x="2862" y="771">80</text><text class="tk" text-anchor="end" x="2862" y="825">60</text><text class="tk" text-anchor="end" x="2862" y="878">40</text><text class="tk" text-anchor="end" x="2862" y="932">20</text><text class="tk" text-anchor="end" x="2862" y="986">0</text>
<text class="tk" text-anchor="end" x="3467" y="717">100</text><text class="tk" text-anchor="end" x="3467" y="771">80</text><text class="tk" text-anchor="end" x="3467" y="825">60</text><text class="tk" text-anchor="end" x="3467" y="878">40</text><text class="tk" text-anchor="end" x="3467" y="932">20</text><text class="tk" text-anchor="end" x="3467" y="986">0</text>
</g>
<g>
<text class="tk" text-anchor="middle" x="2899" y="1028">0</text><text class="tk" text-anchor="middle" x="2998" y="1028">50k</text><text class="tk" text-anchor="middle" x="3096" y="1028">100k</text><text class="tk" text-anchor="middle" x="3195" y="1028">150k</text><text class="tk" text-anchor="middle" x="3293" y="1028">200k</text>
<text class="tk" text-anchor="middle" x="3505" y="1028">0</text><text class="tk" text-anchor="middle" x="3603" y="1028">50k</text><text class="tk" text-anchor="middle" x="3702" y="1028">100k</text><text class="tk" text-anchor="middle" x="3800" y="1028">150k</text><text class="tk" text-anchor="middle" x="3898" y="1028">200k</text>
</g>
<text x="3096" y="1058" font-size="26" fill="#333" text-anchor="middle" textLength="186" lengthAdjust="spacingAndGlyphs">online samples</text>
<text x="3702" y="1058" font-size="26" fill="#333" text-anchor="middle" textLength="186" lengthAdjust="spacingAndGlyphs">online samples</text>
<text transform="translate(2804,833) rotate(-90)" font-size="22" fill="#333" text-anchor="middle" textLength="208" lengthAdjust="spacingAndGlyphs" style="font-family:'DejaVu Sans',sans-serif">normalized score</text>
<text transform="translate(3409,833) rotate(-90)" font-size="22" fill="#333" text-anchor="middle" textLength="208" lengthAdjust="spacingAndGlyphs" style="font-family:'DejaVu Sans',sans-serif">normalized score</text>
<text x="2751" y="1136" class="fc" textLength="1205" lengthAdjust="spacingAndGlyphs"><tspan fill="#c4364f">Figure 1.</tspan> PDT outperforms other unsupervised pretraining methods and performs on par with</text>
<text x="2751" y="1172" class="fc" textLength="752" lengthAdjust="spacingAndGlyphs">its supervised pretraining counterpart in few-shot settings.</text>

<!-- Fig 2 -->
<g fill="#eaeaf2">
<rect x="2925" y="1271" width="250" height="241"/><rect x="3248" y="1271" width="252" height="241"/><rect x="3573" y="1271" width="251" height="241"/>
<rect x="2925" y="1589" width="250" height="241"/><rect x="3248" y="1589" width="252" height="241"/><rect x="3573" y="1589" width="251" height="241"/>
</g>
<path stroke="#fff" stroke-width="2" fill="none" d="M2931.1,1271V1512M2990.9,1271V1512M3050.7,1271V1512M3110.4,1271V1512M3170.2,1271V1512M2925,1470.6H3175M2925,1428.9H3175M2925,1387.1H3175M2925,1345.4H3175M2925,1303.7H3175
M3253.5,1271V1512M3312.4,1271V1512M3371.2,1271V1512M3430.1,1271V1512M3488.9,1271V1512M3248,1475.8H3500M3248,1439.3H3500M3248,1402.7H3500M3248,1366.2H3500M3248,1329.7H3500M3248,1293.1H3500
M3582.3,1271V1512M3640.6,1271V1512M3699,1271V1512M3757.3,1271V1512M3815.6,1271V1512M3573,1476.5H3824M3573,1440.8H3824M3573,1405H3824M3573,1369.3H3824M3573,1333.5H3824M3573,1297.7H3824
M2929,1589V1830M2988.2,1589V1830M3047.5,1589V1830M3106.7,1589V1830M3165.9,1589V1830M2925,1789.9H3175M2925,1750.1H3175M2925,1710.2H3175M2925,1670.4H3175M2925,1630.5H3175M2925,1590.7H3175
M3255.6,1589V1830M3313.9,1589V1830M3372.3,1589V1830M3430.6,1589V1830M3488.9,1589V1830M3248,1792.1H3500M3248,1754.4H3500M3248,1716.8H3500M3248,1679.1H3500M3248,1641.4H3500M3248,1603.7H3500
M3580.8,1589V1830M3639.5,1589V1830M3698.2,1589V1830M3756.9,1589V1830M3815.6,1589V1830M3573,1788.2H3824M3573,1746.6H3824M3573,1705H3824M3573,1663.3H3824M3573,1621.7H3824"/>
<g stroke="#fff" stroke-width="1.2" fill-opacity="0.5">
<g transform="translate(3050.65,1512.3) scale(119.55,-208.6)">
<path vector-effect="non-scaling-stroke" fill="#4c72b0" d="M-1,0v.04h.1V0zM-.9,0v.2h.1V0zM-.8,0v.35h.1V0zM-.7,0v.5h.1V0zM-.6,0v.35h.1V0zM-.5,0v.55h.1V0zM-.4,0v.45h.1V0zM-.3,0v.58h.1V0zM-.2,0v.7h.1V0zM-.1,0v.75h.1V0zM0,0v.9h.1V0zM.1,0v.75h.1V0zM.2,0v.95h.1V0zM.3,0v.85h.1V0zM.4,0v.55h.1V0zM.5,0v.6h.1V0zM.6,0v.45h.1V0zM.7,0v.25h.1V0zM.8,0v.15h.1V0zM.9,0v.15h.1V0z"/>
<path vector-effect="non-scaling-stroke" fill="#dd8452" d="M-1,0v.03h.1V0zM-.9,0v.15h.1V0zM-.8,0v.55h.1V0zM-.7,0v.7h.1V0zM-.6,0v.55h.1V0zM-.5,0v.85h.1V0zM-.4,0v.8h.1V0zM-.3,0v1.1h.1V0zM-.2,0v.85h.1V0zM-.1,0v.7h.1V0zM0,0v.45h.1V0zM.1,0v.55h.1V0zM.2,0v.45h.1V0zM.3,0v.35h.1V0zM.4,0v.2h.1V0zM.5,0v.2h.1V0zM.6,0v.15h.1V0zM.7,0v.1h.1V0zM.8,0v.05h.1V0z"/>
<path vector-effect="non-scaling-stroke" fill="#55a868" d="M-1,0v.6h.1V0zM-.9,0v.75h.1V0zM-.8,0v1.02h.1V0zM-.7,0v.78h.1V0zM-.6,0v.89h.1V0zM-.5,0v.85h.1V0zM-.4,0v.78h.1V0zM-.3,0v1h.1V0zM-.2,0v.65h.1V0zM-.1,0v.44h.1V0zM0,0v.44h.1V0zM.1,0v.5h.1V0zM.2,0v.38h.1V0zM.3,0v.2h.1V0zM.4,0v.2h.1V0zM.5,0v.19h.1V0zM.6,0v.08h.1V0zM.7,0v.05h.1V0z"/>
</g>
<g transform="translate(3371.2,1512.3) scale(117.7,-146.1)">
<path vector-effect="non-scaling-stroke" fill="#4c72b0" d="M-.9,0v.02h.1V0zM-.8,0v.2h.1V0zM-.7,0v.2h.1V0zM-.6,0v.2h.1V0zM-.5,0v.25h.1V0zM-.4,0v.3h.1V0zM-.3,0v.5h.1V0zM-.2,0v.5h.1V0zM-.1,0v.3h.1V0zM0,0v.3h.1V0zM.1,0v.62h.1V0zM.2,0v.55h.1V0zM.3,0v.55h.1V0zM.4,0v.8h.1V0zM.5,0v.85h.1V0zM.6,0v1h.1V0zM.7,0v1.12h.1V0zM.8,0v1.45h.1V0zM.9,0v.45h.1V0z"/>
<path vector-effect="non-scaling-stroke" fill="#dd8452" d="M-1,0v.07h.1V0zM-.9,0v.2h.1V0zM-.8,0v.27h.1V0zM-.7,0v.35h.1V0zM-.6,0v.4h.1V0zM-.5,0v.5h.1V0zM-.4,0v.52h.1V0zM-.3,0v.4h.1V0zM-.2,0v.7h.1V0zM-.1,0v.6h.1V0zM0,0v.62h.1V0zM.1,0v.63h.1V0zM.2,0v.55h.1V0zM.3,0v.6h.1V0zM.4,0v.78h.1V0zM.5,0v.65h.1V0zM.6,0v.6h.1V0zM.7,0v1h.1V0zM.8,0v1.12h.1V0zM.9,0v.15h.1V0z"/>
<path vector-effect="non-scaling-stroke" fill="#55a868" d="M-.9,0v.03h.1V0zM-.8,0v.1h.1V0zM-.7,0v.1h.1V0zM-.6,0v.12h.1V0zM-.5,0v.2h.1V0zM-.4,0v.15h.1V0zM-.3,0v.3h.1V0zM-.2,0v.25h.1V0zM-.1,0v.2h.1V0zM0,0v.28h.1V0zM.1,0v.4h.1V0zM.2,0v.35h.1V0zM.3,0v.48h.1V0zM.4,0v.55h.1V0zM.5,0v.58h.1V0zM.6,0v.68h.1V0zM.7,0v1.35h.1V0zM.8,0v1.57h.1V0zM.9,0v1.52h.1V0z"/>
</g>
<g transform="translate(3698.95,1512.3) scale(116.65,-178.8)">
<path vector-effect="non-scaling-stroke" fill="#4c72b0" d="M-1,0v.45h.1V0zM-.9,0v.62h.1V0zM-.8,0v.9h.1V0zM-.7,0v1.07h.1V0zM-.6,0v.62h.1V0zM-.5,0v.78h.1V0zM-.4,0v.88h.1V0zM-.3,0v.56h.1V0zM-.2,0v.6h.1V0zM-.1,0v.62h.1V0zM0,0v.56h.1V0zM.1,0v.5h.1V0zM.2,0v.4h.1V0zM.3,0v.3h.1V0zM.4,0v.28h.1V0zM.5,0v.25h.1V0zM.6,0v.2h.1V0zM.7,0v.15h.1V0zM.8,0v.1h.1V0zM.9,0v.05h.1V0z"/>
<path vector-effect="non-scaling-stroke" fill="#dd8452" d="M-.8,0v.05h.1V0zM-.7,0v.06h.1V0zM-.6,0v.06h.1V0zM-.5,0v.18h.1V0zM-.4,0v.25h.1V0zM-.3,0v.38h.1V0zM-.2,0v.42h.1V0zM-.1,0v.45h.1V0zM0,0v.6h.1V0zM.1,0v.85h.1V0zM.2,0v1.22h.1V0zM.3,0v1.02h.1V0zM.4,0v1.28h.1V0zM.5,0v1.28h.1V0zM.6,0v1h.1V0zM.7,0v.75h.1V0zM.8,0v.55h.1V0zM.9,0v.18h.1V0z"/>
<path vector-effect="non-scaling-stroke" fill="#55a868" d="M-1,0v.25h.1V0zM-.9,0v.48h.1V0zM-.8,0v.7h.1V0zM-.7,0v.62h.1V0zM-.6,0v.73h.1V0zM-.5,0v.79h.1V0zM-.4,0v.75h.1V0zM-.3,0v.59h.1V0zM-.2,0v.65h.1V0zM-.1,0v.55h.1V0zM0,0v.45h.1V0zM.1,0v.45h.1V0zM.2,0v.52h.1V0zM.3,0v.62h.1V0zM.4,0v.4h.1V0zM.5,0v.35h.1V0zM.6,0v.38h.1V0zM.7,0v.15h.1V0zM.8,0v.15h.1V0zM.9,0v.15h.1V0z"/>
</g>
<g transform="translate(3047.45,1829.8) scale(118.45,-79.7)">
<path vector-effect="non-scaling-stroke" fill="#4c72b0" d="M-.6,0v.02h.1V0zM-.5,0v.02h.1V0zM-.4,0v.05h.1V0zM-.3,0v.08h.1V0zM-.2,0v.2h.1V0zM-.1,0v.25h.1V0zM0,0v.2h.1V0zM.1,0v.3h.1V0zM.2,0v.35h.1V0zM.3,0v.45h.1V0zM.4,0v.7h.1V0zM.5,0v.6h.1V0zM.6,0v.8h.1V0zM.7,0v1.5h.1V0zM.8,0v2.2h.1V0zM.9,0v2.3h.1V0z"/>
<path vector-effect="non-scaling-stroke" fill="#dd8452" d="M-.4,0v.05h.1V0zM-.3,0v.1h.1V0zM-.2,0v.15h.1V0zM-.1,0v.2h.1V0zM0,0v.3h.1V0zM.1,0v.35h.1V0zM.2,0v.45h.1V0zM.3,0v.6h.1V0zM.4,0v.7h.1V0zM.5,0v1.1h.1V0zM.6,0v1.55h.1V0zM.7,0v2h.1V0zM.8,0v2.5h.1V0zM.9,0v2.9h.1V0z"/>
<path vector-effect="non-scaling-stroke" fill="#55a868" d="M-1,0v.2h.1V0zM-.9,0v.2h.1V0zM-.8,0v.2h.1V0zM-.7,0v.2h.1V0zM-.6,0v.35h.1V0zM-.5,0v.3h.1V0zM-.4,0v.35h.1V0zM-.3,0v.5h.1V0zM-.2,0v.2h.1V0zM-.1,0v.5h.1V0zM0,0v.55h.1V0zM.1,0v.4h.1V0zM.2,0v.6h.1V0zM.3,0v.35h.1V0zM.4,0v.5h.1V0zM.5,0v.7h.1V0zM.6,0v.45h.1V0zM.7,0v.8h.1V0zM.8,0v1.42h.1V0zM.9,0v1.45h.1V0z"/>
</g>
<g transform="translate(3372.25,1829.8) scale(116.65,-37.68)">
<path vector-effect="non-scaling-stroke" fill="#4c72b0" d="M-.2,0v.05h.1V0zM-.1,0v.1h.1V0zM0,0v.1h.1V0zM.1,0v.2h.1V0zM.2,0v.2h.1V0zM.3,0v.3h.1V0zM.4,0v.3h.1V0zM.5,0v.5h.1V0zM.6,0v.7h.1V0zM.7,0v1.3h.1V0zM.8,0v2.1h.05V0zM.85,0v2.6h.05V0zM.9,0v3.7h.05V0zM.95,0v6.1h.05V0z"/>
<path vector-effect="non-scaling-stroke" fill="#dd8452" d="M-.7,0v.05h.1V0zM-.6,0v.1h.1V0zM-.5,0v.1h.1V0zM-.4,0v.15h.1V0zM-.3,0v.2h.1V0zM-.2,0v.35h.1V0zM-.1,0v.45h.1V0zM0,0v.5h.1V0zM.1,0v.45h.1V0zM.2,0v.6h.1V0zM.3,0v.7h.1V0zM.4,0v.55h.1V0zM.5,0v1.1h.1V0zM.6,0v.85h.1V0zM.7,0v1.3h.1V0zM.8,0v1.35h.1V0zM.9,0v.6h.1V0z"/>
<path vector-effect="non-scaling-stroke" fill="#55a868" d="M-1,0v.5h.1V0zM-.9,0v.6h.1V0zM-.8,0v.7h.1V0zM-.7,0v.6h.1V0zM-.6,0v.75h.1V0zM-.5,0v.6h.1V0zM-.4,0v.4h.1V0zM-.3,0v.6h.1V0zM-.2,0v.4h.1V0zM-.1,0v.45h.1V0zM0,0v.5h.1V0zM.1,0v.4h.1V0zM.2,0v.4h.1V0zM.3,0v.35h.1V0zM.4,0v.4h.1V0zM.5,0v.4h.1V0zM.6,0v.4h.1V0zM.7,0v.3h.1V0zM.8,0v.15h.1V0zM.9,0v.1h.1V0z"/>
</g>
<g transform="translate(3698.2,1829.8) scale(117.4,-208.1)">
<path vector-effect="non-scaling-stroke" fill="#4c72b0" d="M-.9,0v.05h.1V0zM-.8,0v.03h.1V0zM-.7,0v.2h.1V0zM-.6,0v.38h.1V0zM-.5,0v.36h.1V0zM-.4,0v.36h.1V0zM-.3,0v.35h.1V0zM-.2,0v.5h.1V0zM-.1,0v.58h.1V0zM0,0v.65h.1V0zM.1,0v.62h.1V0zM.2,0v.75h.1V0zM.3,0v.93h.1V0zM.4,0v.85h.1V0zM.5,0v.88h.1V0zM.6,0v1.1h.1V0zM.7,0v1.02h.1V0zM.8,0v.8h.1V0zM.9,0v.38h.1V0z"/>
<path vector-effect="non-scaling-stroke" fill="#dd8452" d="M-.9,0v.02h.1V0zM-.8,0v.05h.1V0zM-.7,0v.15h.1V0zM-.6,0v.25h.1V0zM-.5,0v.35h.1V0zM-.4,0v.4h.1V0zM-.3,0v.42h.1V0zM-.2,0v.55h.1V0zM-.1,0v.6h.1V0zM0,0v.88h.1V0zM.1,0v.65h.1V0zM.2,0v.8h.1V0zM.3,0v.95h.1V0zM.4,0v.85h.1V0zM.5,0v.75h.1V0zM.6,0v.85h.1V0zM.7,0v.75h.1V0zM.8,0v.55h.1V0zM.9,0v.3h.1V0z"/>
<path vector-effect="non-scaling-stroke" fill="#55a868" d="M-1,0v.22h.1V0zM-.9,0v.22h.1V0zM-.8,0v.28h.1V0zM-.7,0v.52h.1V0zM-.6,0v.52h.1V0zM-.5,0v.4h.1V0zM-.4,0v.72h.1V0zM-.3,0v.55h.1V0zM-.2,0v.45h.1V0zM-.1,0v.6h.1V0zM0,0v.58h.1V0zM.1,0v.6h.1V0zM.2,0v.57h.1V0zM.3,0v.6h.1V0zM.4,0v.55h.1V0zM.5,0v.57h.1V0zM.6,0v.6h.1V0zM.7,0v.75h.1V0zM.8,0v.55h.1V0zM.9,0v.42h.1V0z"/>
</g>
</g>
<rect x="3042" y="1279" width="126" height="76" rx="4" fill="#eaeaf2" fill-opacity="0.8" stroke="#d0d0d8" stroke-width="1.5"/>
<rect x="3050" y="1285" width="31" height="13" fill="#4c72b0" fill-opacity="0.5"/><rect x="3050" y="1310" width="31" height="13" fill="#dd8452" fill-opacity="0.5"/><rect x="3050" y="1334" width="31" height="13" fill="#55a868" fill-opacity="0.5"/>
<text x="3095" y="1298" font-size="19" fill="#333">future 0</text><text x="3095" y="1323" font-size="19" fill="#333">future 1</text><text x="3095" y="1347" font-size="19" fill="#333">future 2</text>
<g>
<text x="3050" y="1262" class="tk2" text-anchor="middle">dim 0</text><text x="3374" y="1262" class="tk2" text-anchor="middle">dim 1</text><text x="3698" y="1262" class="tk2" text-anchor="middle">dim 2</text>
<text x="3050" y="1579" class="tk2" text-anchor="middle">dim 3</text><text x="3374" y="1579" class="tk2" text-anchor="middle">dim 4</text><text x="3698" y="1579" class="tk2" text-anchor="middle">dim 5</text>
</g>
<g>
<text class="tk2" text-anchor="middle" x="2931" y="1542">−1.0</text><text class="tk2" text-anchor="middle" x="2991" y="1542">−0.5</text><text class="tk2" text-anchor="middle" x="3051" y="1542">0.0</text><text class="tk2" text-anchor="middle" x="3110" y="1542">0.5</text><text class="tk2" text-anchor="middle" x="3170" y="1542">1.0</text>
<text class="tk2" text-anchor="middle" x="3254" y="1542">−1.0</text><text class="tk2" text-anchor="middle" x="3312" y="1542">−0.5</text><text class="tk2" text-anchor="middle" x="3371" y="1542">0.0</text><text class="tk2" text-anchor="middle" x="3430" y="1542">0.5</text><text class="tk2" text-anchor="middle" x="3489" y="1542">1.0</text>
<text class="tk2" text-anchor="middle" x="3582" y="1542">−1.0</text><text class="tk2" text-anchor="middle" x="3641" y="1542">−0.5</text><text class="tk2" text-anchor="middle" x="3699" y="1542">0.0</text><text class="tk2" text-anchor="middle" x="3757" y="1542">0.5</text><text class="tk2" text-anchor="middle" x="3816" y="1542">1.0</text>
<text class="tk2" text-anchor="middle" x="2929" y="1860">−1.0</text><text class="tk2" text-anchor="middle" x="2988" y="1860">−0.5</text><text class="tk2" text-anchor="middle" x="3048" y="1860">0.0</text><text class="tk2" text-anchor="middle" x="3107" y="1860">0.5</text><text class="tk2" text-anchor="middle" x="3166" y="1860">1.0</text>
<text class="tk2" text-anchor="middle" x="3256" y="1860">−1.0</text><text class="tk2" text-anchor="middle" x="3314" y="1860">−0.5</text><text class="tk2" text-anchor="middle" x="3372" y="1860">0.0</text><text class="tk2" text-anchor="middle" x="3431" y="1860">0.5</text><text class="tk2" text-anchor="middle" x="3489" y="1860">1.0</text>
<text class="tk2" text-anchor="middle" x="3581" y="1860">−1.0</text><text class="tk2" text-anchor="middle" x="3640" y="1860">−0.5</text><text class="tk2" text-anchor="middle" x="3698" y="1860">0.0</text><text class="tk2" text-anchor="middle" x="3757" y="1860">0.5</text><text class="tk2" text-anchor="middle" x="3816" y="1860">1.0</text>
</g>
<g>
<text class="tk2" text-anchor="end" x="2917" y="1519">0.0</text><text class="tk2" text-anchor="end" x="2917" y="1478">0.2</text><text class="tk2" text-anchor="end" x="2917" y="1436">0.4</text><text class="tk2" text-anchor="end" x="2917" y="1394">0.6</text><text class="tk2" text-anchor="end" x="2917" y="1352">0.8</text><text class="tk2" text-anchor="end" x="2917" y="1311">1.0</text>
<text class="tk2" text-anchor="end" x="3240" y="1519">0.00</text><text class="tk2" text-anchor="end" x="3240" y="1483">0.25</text><text class="tk2" text-anchor="end" x="3240" y="1446">0.50</text><text class="tk2" text-anchor="end" x="3240" y="1410">0.75</text><text class="tk2" text-anchor="end" x="3240" y="1373">1.00</text><text class="tk2" text-anchor="end" x="3240" y="1337">1.25</text><text class="tk2" text-anchor="end" x="3240" y="1300">1.50</text>
<text class="tk2" text-anchor="end" x="3565" y="1519">0.0</text><text class="tk2" text-anchor="end" x="3565" y="1484">0.2</text><text class="tk2" text-anchor="end" x="3565" y="1448">0.4</text><text class="tk2" text-anchor="end" x="3565" y="1412">0.6</text><text class="tk2" text-anchor="end" x="3565" y="1376">0.8</text><text class="tk2" text-anchor="end" x="3565" y="1341">1.0</text><text class="tk2" text-anchor="end" x="3565" y="1305">1.2</text>
<text class="tk2" text-anchor="end" x="2917" y="1837">0.0</text><text class="tk2" text-anchor="end" x="2917" y="1797">0.5</text><text class="tk2" text-anchor="end" x="2917" y="1757">1.0</text><text class="tk2" text-anchor="end" x="2917" y="1717">1.5</text><text class="tk2" text-anchor="end" x="2917" y="1678">2.0</text><text class="tk2" text-anchor="end" x="2917" y="1638">2.5</text><text class="tk2" text-anchor="end" x="2917" y="1598">3.0</text>
<text class="tk2" text-anchor="end" x="3240" y="1837">0</text><text class="tk2" text-anchor="end" x="3240" y="1799">1</text><text class="tk2" text-anchor="end" x="3240" y="1762">2</text><text class="tk2" text-anchor="end" x="3240" y="1724">3</text><text class="tk2" text-anchor="end" x="3240" y="1686">4</text><text class="tk2" text-anchor="end" x="3240" y="1649">5</text><text class="tk2" text-anchor="end" x="3240" y="1611">6</text>
<text class="tk2" text-anchor="end" x="3565" y="1837">0.0</text><text class="tk2" text-anchor="end" x="3565" y="1795">0.2</text><text class="tk2" text-anchor="end" x="3565" y="1754">0.4</text><text class="tk2" text-anchor="end" x="3565" y="1712">0.6</text><text class="tk2" text-anchor="end" x="3565" y="1670">0.8</text><text class="tk2" text-anchor="end" x="3565" y="1629">1.0</text>
</g>
<text x="2850" y="1925" class="fc" textLength="1022" lengthAdjust="spacingAndGlyphs"><tspan fill="#c4364f">Figure 2.</tspan> PDT can generate diverse behaviors conditioning on different futures.</text>

<!-- Fig 3 -->
<rect x="2966" y="2000" width="833" height="290" fill="#eaeaf2"/>
<path stroke="#fff" stroke-width="2.5" fill="none" d="M2966,2009.7H3799M2966,2065.8H3799M2966,2121.9H3799M2966,2178H3799M2966,2234H3799"/>
<g transform="translate(2850,2290.1) scale(0.7179,-2.804)" stroke="#fff" stroke-width="1.5">
<g fill="#5c3a60"><rect vector-effect="non-scaling-stroke" x="191" y="0" width="45" height="94.5"/><rect vector-effect="non-scaling-stroke" x="482" y="0" width="45" height="77"/><rect vector-effect="non-scaling-stroke" x="772" y="0" width="45" height="58.5"/><rect vector-effect="non-scaling-stroke" x="1063" y="0" width="45" height="51"/></g>
<g fill="#87567a"><rect vector-effect="non-scaling-stroke" x="237" y="0" width="45" height="92.5"/><rect vector-effect="non-scaling-stroke" x="528" y="0" width="45" height="29.5"/><rect vector-effect="non-scaling-stroke" x="819" y="0" width="45" height="64"/><rect vector-effect="non-scaling-stroke" x="1109" y="0" width="45" height="36"/></g>
<g fill="#a67590"><rect vector-effect="non-scaling-stroke" x="284" y="0" width="45" height="90"/><rect vector-effect="non-scaling-stroke" x="574" y="0" width="45" height="16.5"/><rect vector-effect="non-scaling-stroke" x="865" y="0" width="45" height="71"/><rect vector-effect="non-scaling-stroke" x="1155" y="0" width="45" height="34"/></g>
<g fill="#c291a0"><rect vector-effect="non-scaling-stroke" x="330" y="0" width="45" height="95"/><rect vector-effect="non-scaling-stroke" x="621" y="0" width="45" height="14"/><rect vector-effect="non-scaling-stroke" x="911" y="0" width="45" height="69.5"/><rect vector-effect="non-scaling-stroke" x="1202" y="0" width="45" height="29"/></g>
<g fill="#dbb1b6"><rect vector-effect="non-scaling-stroke" x="376" y="0" width="45" height="38"/><rect vector-effect="non-scaling-stroke" x="667" y="0" width="45" height="1.5"/><rect vector-effect="non-scaling-stroke" x="957" y="0" width="45" height="39"/><rect vector-effect="non-scaling-stroke" x="1248" y="0" width="45" height="11"/></g>
<path vector-effect="non-scaling-stroke" stroke="#3d3d3d" stroke-width="5" fill="none" d="M213.5,92V96M259.5,85V99M306.5,79V99M352.5,90V98M398.5,24V48M504.5,70V87M550.5,18V49M596.5,12V23M643.5,12V16M689.5,0V2M794.5,45V67M841.5,39V80M887.5,64V81M933.5,53V81M979.5,1V59M1085.5,48V55M1131.5,1V59M1177.5,18V57M1224.5,12V40M1270.5,4V20"/>
</g>
<rect x="3538" y="2008" width="252" height="119" rx="5" fill="#eaeaf2" fill-opacity="0.85" stroke="#d0d0d8" stroke-width="2"/>
<text x="3664" y="2033" font-size="21" fill="#333" text-anchor="middle">percentile</text>
<rect x="3545" y="2048" width="37" height="13" fill="#5c3a60"/><rect x="3689" y="2048" width="37" height="13" fill="#c291a0"/>
<rect x="3545" y="2076" width="37" height="13" fill="#87567a"/><rect x="3689" y="2076" width="37" height="13" fill="#dbb1b6"/>
<rect x="3545" y="2103" width="37" height="13" fill="#a67590"/>
<g font-size="20" fill="#333"><text x="3597" y="2061">100%</text><text x="3740" y="2061">25%</text><text x="3597" y="2089">75%</text><text x="3740" y="2089">0%</text><text x="3597" y="2116">50%</text></g>
<g>
<text class="tk2" text-anchor="end" x="2948" y="2017">100</text><text class="tk2" text-anchor="end" x="2948" y="2073">80</text><text class="tk2" text-anchor="end" x="2948" y="2129">60</text><text class="tk2" text-anchor="end" x="2948" y="2185">40</text><text class="tk2" text-anchor="end" x="2948" y="2241">20</text><text class="tk2" text-anchor="end" x="2948" y="2297">0</text>
</g>
<g>
<text class="tk2" text-anchor="middle" x="3069" y="2323" textLength="148" lengthAdjust="spacingAndGlyphs">hopper-medium</text>
<text class="tk2" text-anchor="middle" x="3277" y="2323" textLength="213" lengthAdjust="spacingAndGlyphs">hopper-medium-replay</text>
<text class="tk2" text-anchor="middle" x="3487" y="2323" textLength="168" lengthAdjust="spacingAndGlyphs">walker2d-medium</text>
<text class="tk2" text-anchor="middle" x="3696" y="2323" textLength="233" lengthAdjust="spacingAndGlyphs">walker2d-medium-replay</text>
</g>
<text transform="translate(2900,2145) rotate(-90)" font-size="20" fill="#333" text-anchor="middle" textLength="174" lengthAdjust="spacingAndGlyphs" style="font-family:'DejaVu Sans',sans-serif">normalized score</text>
<text x="2832" y="2389" class="fc" textLength="1065" lengthAdjust="spacingAndGlyphs"><tspan fill="#c4364f">Figure 3.</tspan> PDT can controllably generate high-return behaviors via online finetuning.</text>

<!-- QR codes -->
<rect x="2851" y="2483" width="264" height="264" fill="url(#qp)"/>
<use href="#finder" x="2851" y="2483"/><use href="#finderR" x="3059" y="2483"/><use href="#finderB" x="2851" y="2691"/>
<rect x="2928" y="2577" width="100" height="70" fill="#fff"/>
<text x="2981" y="2626" font-size="32" text-anchor="middle" fill="#777" style="font-family:'Liberation Mono',monospace">ar<tspan fill="#b31b1b" font-weight="bold">X</tspan>iv</text>

<rect x="3229" y="2483" width="264" height="264" fill="url(#qp2)"/>
<use href="#finder" x="3229" y="2483"/><use href="#finderR" x="3437" y="2483"/><use href="#finderB" x="3229" y="2691"/>
<circle cx="3361" cy="2615" r="44" fill="#fff"/><circle cx="3361" cy="2615" r="35" fill="#1b1b1b"/>
<path d="M3346,2600 L3346,2588 L3354,2596 Q3361,2593 3368,2596 L3376,2588 L3376,2600 Q3382,2608 3378,2618 Q3374,2626 3366,2628 L3366,2646 L3356,2646 L3356,2628 Q3348,2626 3344,2618 Q3340,2608 3346,2600 Z" fill="#fff"/>

<rect x="3608" y="2482" width="260" height="260" fill="url(#qp3)"/>
<use href="#finder" x="3608" y="2482"/><use href="#finderR" x="3812" y="2482"/><use href="#finderB" x="3608" y="2686"/>
<circle cx="3735" cy="2610" r="44" fill="#fff"/>
<path d="M3735,2580 A30,30 0 1 1 3712,2630 L3706,2644 L3720,2638 A30,30 0 0 0 3735,2640" fill="none" stroke="#111" stroke-width="6"/>
<path d="M3724,2598 Q3722,2612 3734,2622 Q3744,2628 3748,2622 L3744,2616 L3738,2618 Q3732,2612 3730,2606 L3734,2602 L3730,2596 Z" fill="#111"/>

<text x="2785" y="2838" font-size="52" fill="#111" textLength="1159" lengthAdjust="spacingAndGlyphs">Please refer to our paper and code for more details!</text>
</svg>
</body></html>
